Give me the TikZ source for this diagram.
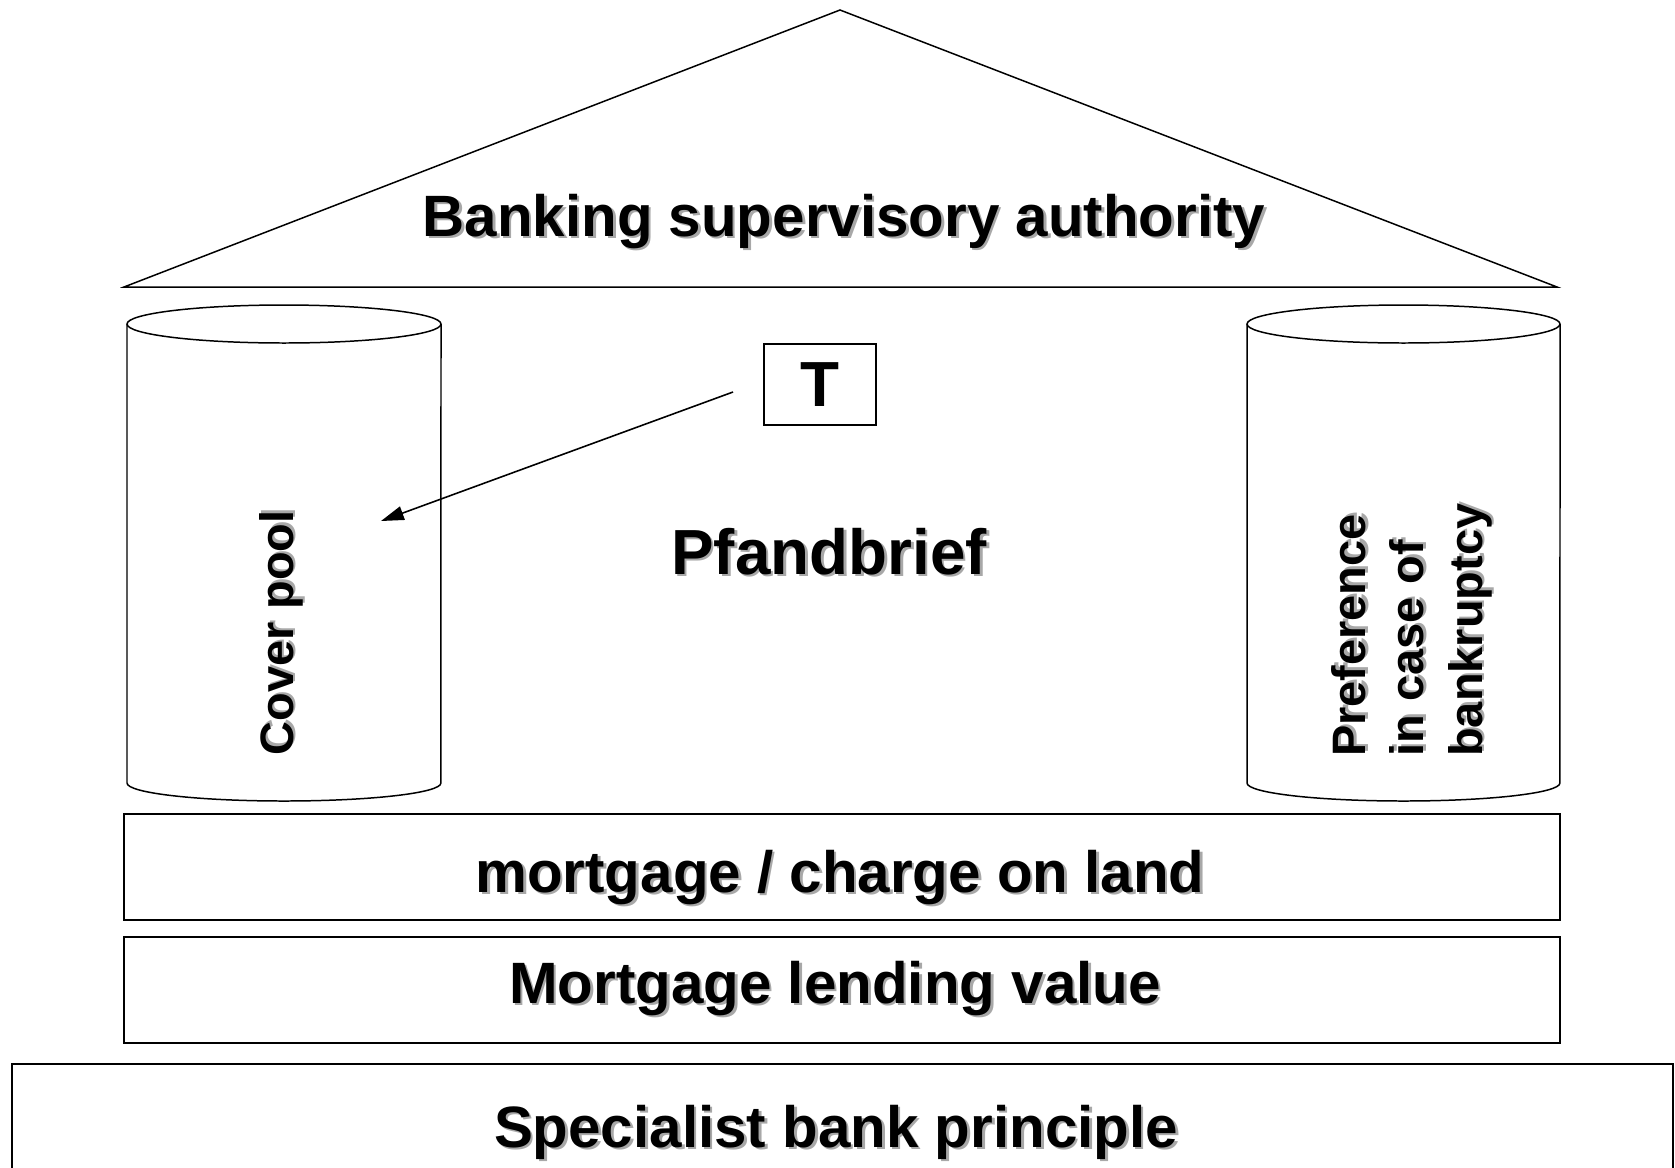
\documentclass[tikz,border=0pt]{standalone}
\usepackage{fontspec}
\setmainfont{Liberation Sans}
\usetikzlibrary{arrows.meta}
\definecolor{shadowgray}{RGB}{168,168,168}
\newcommand{\shtext}[1]{\makebox[0pt][l]{\hspace{1.5pt}\raisebox{-1.5pt}{\textcolor{shadowgray}{#1}}}#1}

\begin{document}
\begin{tikzpicture}[x=0.02cm, y=-0.02cm]
\tikzstyle{labelbig}=[inner sep=0pt, font=\bfseries\fontsize{33.2}{40}\selectfont]
\tikzstyle{labelhuge}=[inner sep=0pt, font=\bfseries\fontsize{36.3}{44}\selectfont]
\tikzstyle{labelside}=[inner sep=0pt, rotate=90, font=\bfseries\fontsize{26.7}{33.2}\selectfont]
\tikzstyle{thinline}=[line width=0.85pt]
\tikzstyle{boxline}=[line width=1.1pt]
\tikzstyle{drawstyle}=[line width=0.9pt, -{Triangle[length=13pt, width=8pt]}]

\useasboundingbox (0,0) rectangle (1675,1167);

% roof
\draw[thinline] (124,287) -- (840,10) -- (1557,287) -- cycle;
\node[labelbig, anchor=base] (Roof) at (844,236) {\shtext{Banking supervisory authority}};

% left pillar
\draw[thinline] (127,324) -- (127,783) arc[start angle=180, end angle=360, x radius=3.14cm, y radius=0.36cm] -- (441,324);
\draw[thinline] (284,324) ellipse [x radius=3.14cm, y radius=0.38cm];
\node[labelside, anchor=base] (Cover) at (293,633) {\shtext{Cover pool}};

% right pillar
\draw[thinline] (1247,324) -- (1247,783) arc[start angle=180, end angle=360, x radius=3.13cm, y radius=0.36cm] -- (1560,324);
\draw[thinline] (1403.5,324) ellipse [x radius=3.13cm, y radius=0.38cm];
\node[labelside, anchor=north west, align=left] (Pref) at (1331,757)
  {\shtext{Preference}\\\shtext{in case of}\\\shtext{bankruptcy}};

% middle
\node[draw, boxline, inner sep=0pt, minimum width=2.24cm, minimum height=1.62cm,
  font=\bfseries\fontsize{36.3}{44}\selectfont] (TBox) at (820,384.5) {T};
\node[labelhuge, anchor=base] (Pfand) at (829,574) {\shtext{Pfandbrief}};
\coordinate (ArrS) at (733,392);
\coordinate (ArrE) at (381,521);
\draw[drawstyle] (ArrS) -- (ArrE);

% foundation
\draw[boxline] (124,814) rectangle (1560,920);
\node[labelbig, anchor=base] (Charge) at (840,892) {\shtext{mortgage / charge on land}};
\draw[boxline] (124,937) rectangle (1560,1043);
\node[labelbig, anchor=base] (Lend) at (835,1003) {\shtext{Mortgage lending value}};
\draw[boxline] (12,1064) rectangle (1673,1200);
\node[labelbig, anchor=base] (Spec) at (836,1147) {\shtext{Specialist bank principle}};
\end{tikzpicture}
\end{document}
